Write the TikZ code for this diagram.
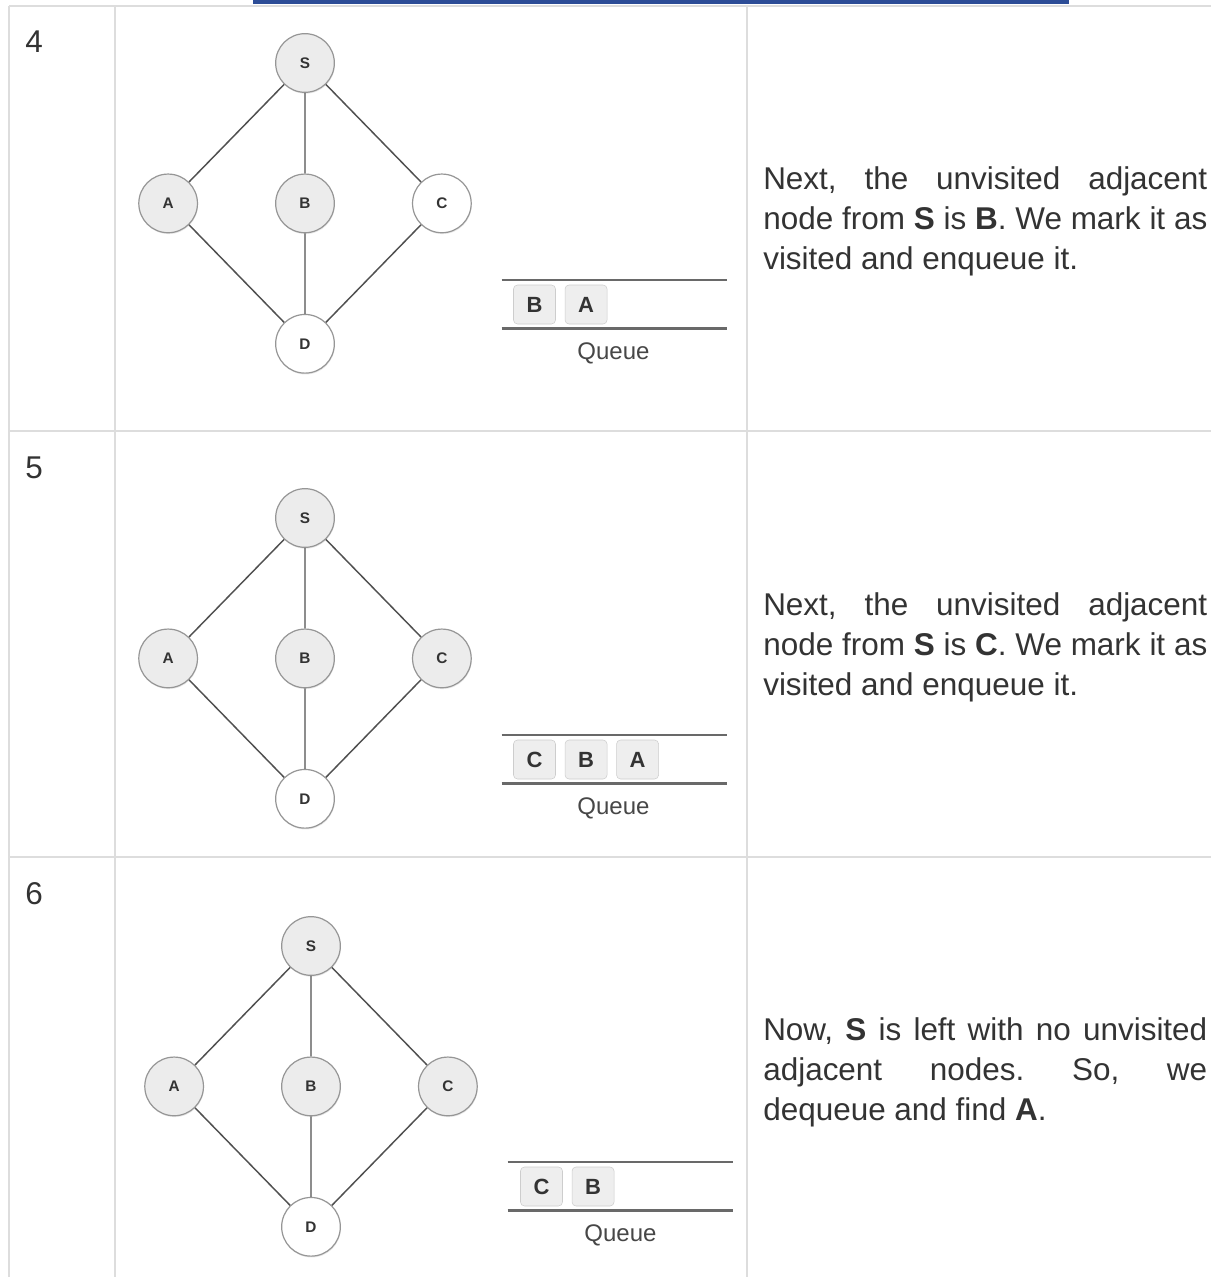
\documentclass[tikz,border=0pt]{standalone}
\usepackage{fontspec}
\setmainfont{Liberation Sans}
\usepackage{tikz}
\usetikzlibrary{positioning,shadows}
\usepackage{xcolor}
\definecolor{grid}{RGB}{221,221,221}
\definecolor{bar}{RGB}{45,77,151}
\definecolor{ink}{RGB}{51,51,51}
\definecolor{visit}{RGB}{236,236,236}
\definecolor{rim}{RGB}{150,150,150}
\definecolor{edge}{RGB}{80,80,80}
\definecolor{qline}{RGB}{105,105,105}
\definecolor{qrim}{RGB}{205,205,205}
\definecolor{qbox}{RGB}{238,238,238}
\hyphenpenalty=10000
\frenchspacing

\begin{document}
\begin{tikzpicture}[x=0.75pt,y=-0.75pt,node distance=60.4pt and 57.75pt]
\tikzstyle{V}=[circle,draw=rim,line width=0.9pt,minimum size=44pt,inner sep=0pt,
font=\fontsize{11.5}{13}\selectfont\bfseries,text=ink,
drop shadow={shadow xshift=0.4pt,shadow yshift=-1pt,opacity=0.18}]
\tikzstyle{seen}=[V,fill=visit]
\tikzstyle{fresh}=[V,fill=white]
\tikzstyle{E}=[draw=edge,line width=1.1pt]
\tikzstyle{QL}=[draw=qline,line width=1.8pt]
\tikzstyle{Q}=[draw=qrim,fill=qbox,rounded corners=3pt,minimum width=31.5pt,
minimum height=29.25pt,inner sep=0pt,font=\fontsize{16.5}{20}\selectfont\bfseries,text=ink]
\tikzstyle{lbl}=[anchor=base,inner sep=0pt,text=ink!90,font=\fontsize{18}{20}\selectfont]
\tikzstyle{num}=[anchor=base west,inner sep=0pt,text=ink,font=\fontsize{23.6}{30}\selectfont]
\tikzstyle{T}=[anchor=base west,text width=333pt,align=justify,inner sep=0pt,text=ink,
font=\fontsize{23.6}{30}\selectfont]
\fill[white] (0,0) rectangle (1211,1277);
\useasboundingbox (0,0) rectangle (1211,1277);
% table
\fill[bar] (253,0) rectangle (1069,4.5);
\draw[grid,line width=1.5pt] (9,6) -- (1211,6) (9,431) -- (1211,431) (9,857) -- (1211,857);
\draw[grid,line width=1.5pt] (9,6) -- (9,1277) (115,6) -- (115,1277) (747,6) -- (747,1277);
% step 4
\node[num] (n4) at (25,53) {4};
\begin{scope}[shift={(305,63)}]
\node[seen] (S4) at (0,0) {S};
\node[seen,below=of S4] (B4) {B};
\node[seen,left=of B4] (A4) {A};
\node[fresh,right=of B4] (C4) {C};
\node[fresh,below=of B4] (D4) {D};
\draw[E] (S4) -- (A4) (S4) -- (B4) (S4) -- (C4);
\draw[E] (A4) -- (D4) (B4) -- (D4) (C4) -- (D4);
\coordinate (q4a) at (196.5,217);
\coordinate (q4b) at (421.5,217);
\coordinate (q4c) at (196.5,265.5);
\coordinate (q4d) at (421.5,265.5);
\draw[QL] (q4a) -- (q4b);
\draw[QL] (q4c) -- (q4d);
\node[Q] (q4B) at (229.5,241.5) {B};
\node[Q,right=6.75pt of q4B] (q4A) {A};
\node[lbl] (q4l) at (308.5,296.5) {Queue};
\end{scope}
\node[T] (t4) at (763,190) {Next, the unvisited adjacent\linebreak
node from \textbf{S} is \textbf{B}. We mark it as\linebreak
visited and enqueue it.};
% step 5
\node[num] (n5) at (25,478) {5};
\begin{scope}[shift={(305,518)}]
\node[seen] (S5) at (0,0) {S};
\node[seen,below=of S5] (B5) {B};
\node[seen,left=of B5] (A5) {A};
\node[seen,right=of B5] (C5) {C};
\node[fresh,below=of B5] (D5) {D};
\draw[E] (S5) -- (A5) (S5) -- (B5) (S5) -- (C5);
\draw[E] (A5) -- (D5) (B5) -- (D5) (C5) -- (D5);
\coordinate (q5a) at (196.5,217);
\coordinate (q5b) at (421.5,217);
\coordinate (q5c) at (196.5,265.5);
\coordinate (q5d) at (421.5,265.5);
\draw[QL] (q5a) -- (q5b);
\draw[QL] (q5c) -- (q5d);
\node[Q] (q5C) at (229.5,241.5) {C};
\node[Q,right=6.75pt of q5C] (q5B) {B};
\node[Q,right=6.75pt of q5B] (q5A) {A};
\node[lbl] (q5l) at (308.5,296.5) {Queue};
\end{scope}
\node[T] (t5) at (763,615) {Next, the unvisited adjacent\linebreak
node from \textbf{S} is \textbf{C}. We mark it as\linebreak
visited and enqueue it.};
% step 6
\node[num] (n6) at (25,904) {6};
\begin{scope}[shift={(311,946)}]
\node[seen] (S6) at (0,0) {S};
\node[seen,below=of S6] (B6) {B};
\node[seen,left=of B6] (A6) {A};
\node[seen,right=of B6] (C6) {C};
\node[fresh,below=of B6] (D6) {D};
\draw[E] (S6) -- (A6) (S6) -- (B6) (S6) -- (C6);
\draw[E] (A6) -- (D6) (B6) -- (D6) (C6) -- (D6);
\coordinate (q6a) at (196.5,216);
\coordinate (q6b) at (421.5,216);
\coordinate (q6c) at (196.5,264.5);
\coordinate (q6d) at (421.5,264.5);
\draw[QL] (q6a) -- (q6b);
\draw[QL] (q6c) -- (q6d);
\node[Q] (q6C) at (230.5,240.5) {C};
\node[Q,right=6.75pt of q6C] (q6B) {B};
\node[lbl] (q6l) at (309.5,295.5) {Queue};
\end{scope}
\node[T] (t6) at (763,1040) {Now, \textbf{S} is left with no unvisited\linebreak
adjacent nodes. So, we\linebreak
dequeue and find \textbf{A}.};
\end{tikzpicture}
\end{document}
